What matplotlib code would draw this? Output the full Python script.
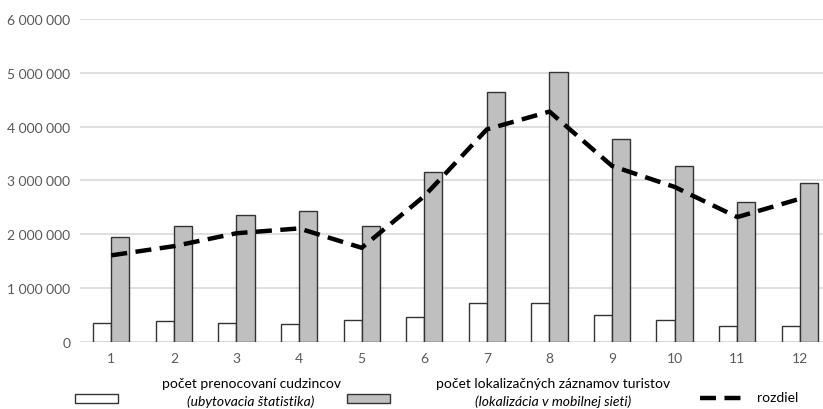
import numpy as np
import matplotlib
matplotlib.use('Agg')
from matplotlib import pyplot as plt
from matplotlib.patches import Rectangle
from matplotlib.lines import Line2D
from matplotlib.ticker import FuncFormatter

# data
months = [1, 2, 3, 4, 5, 6, 7, 8, 9, 10, 11, 12]
prenocovania = [350000, 390000, 350000, 330000, 410000, 460000,
                720000, 720000, 510000, 410000, 300000, 300000]
lokalizacie = [1950000, 2160000, 2360000, 2430000, 2160000, 3160000,
               4650000, 5020000, 3770000, 3270000, 2600000, 2960000]
rozdiel = [1610000, 1780000, 2020000, 2110000, 1750000, 2710000,
           3950000, 4280000, 3270000, 2880000, 2320000, 2660000]
yticks = [0, 1000000, 2000000, 3000000, 4000000, 5000000, 6000000]

plt.rcParams['font.family'] = ['Lato', 'DejaVu Sans']

W, H = 823, 410
fig = plt.figure(figsize=(W / 100, H / 100), dpi=100)
ax = fig.add_axes([80 / W, 67 / H, 1 - 80 / W, (343 - 20) / H])

x = np.array(months)
bw = 0.29
ax.bar(x - bw / 2, prenocovania, bw, color='white', edgecolor='#333333', lw=1, zorder=3)
ax.bar(x + bw / 2, lokalizacie, bw, color='#bfbfbf', edgecolor='#333333', lw=1, zorder=3)
ax.plot(x, rozdiel, color='black', lw=3.2, dashes=(3.6, 1.9), zorder=4)

ax.set_xlim(0.5, 12.37)
ax.set_ylim(0, 6000000)
ax.set_yticks(yticks)
ax.yaxis.set_major_formatter(FuncFormatter(lambda v, p: f'{int(v):,}'.replace(',', ' ')))
ax.set_xticks(months)
ax.grid(axis='y', color='#d9d9d9', lw=1.2, zorder=0)
for s in ax.spines.values():
    s.set_visible(False)
ax.tick_params(length=0, labelsize=10, colors='#595959')
ax.tick_params(axis='x', pad=7)
ax.tick_params(axis='y', pad=7)

# legend drawn by hand
def fx(px):
    return px / W
def fy(py):
    return 1 - py / H

fig.add_artist(Rectangle((fx(75), fy(404)), 43 / W, 9 / H, transform=fig.transFigure,
                         facecolor='white', edgecolor='#333333', lw=1))
fig.add_artist(Rectangle((fx(347), fy(404)), 43 / W, 9 / H, transform=fig.transFigure,
                         facecolor='#bfbfbf', edgecolor='#333333', lw=1))
fig.add_artist(Line2D([fx(700), fx(746)], [fy(399), fy(399)], transform=fig.transFigure,
                      color='black', lw=3.2, dashes=(3.6, 1.9)))

fs = 10
fig.text(fx(251), fy(384), 'počet prenocovaní cudzincov', ha='center', va='center',
         fontsize=fs, color='black')
fig.text(fx(251), fy(402), '(ubytovacia štatistika)', ha='center', va='center',
         fontsize=fs, style='italic', color='black')
fig.text(fx(553), fy(384), 'počet lokalizačných záznamov turistov', ha='center', va='center',
         fontsize=fs, color='black')
fig.text(fx(553), fy(402), '(lokalizácia v mobilnej sieti)', ha='center', va='center',
         fontsize=fs, style='italic', color='black')
fig.text(fx(757), fy(398), 'rozdiel', ha='left', va='center', fontsize=fs, color='black')

fig.savefig('out.png', dpi=100)
